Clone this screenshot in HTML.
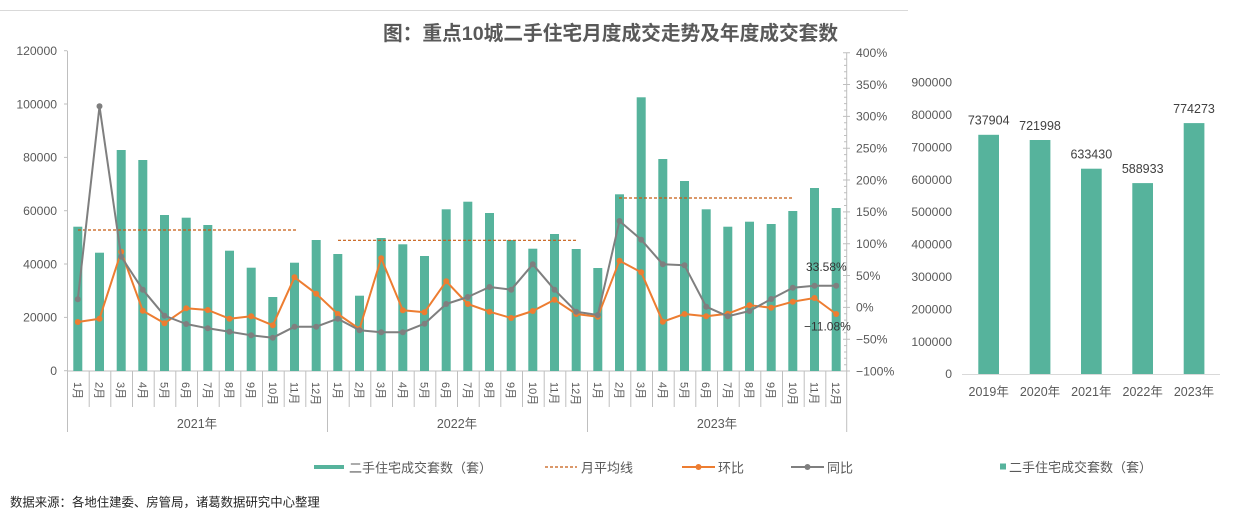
<!DOCTYPE html>
<html><head><meta charset="utf-8"><style>
html,body{margin:0;padding:0;background:#fff;}
svg{display:block;font-family:"Liberation Sans","Noto Sans CJK SC",sans-serif;}
</style></head><body>
<svg width="1249" height="517" viewBox="0 0 1249 517" xmlns="http://www.w3.org/2000/svg">
<rect width="1249" height="517" fill="#fff"/>
<line x1="0" y1="10.5" x2="908" y2="10.5" stroke="#d9d9d9" stroke-width="1"/>
<text x="383" y="40" font-size="19.7" font-weight="bold" fill="#595959">图：重点10城二手住宅月度成交走势及年度成交套数</text>

<!-- left axis -->
<g stroke="#bfbfbf" stroke-width="1" fill="none">
<line x1="67.5" y1="50.7" x2="67.5" y2="432"/>
<line x1="67" y1="371" x2="847" y2="371"/>
<line x1="64" y1="50.7" x2="67" y2="50.7"/><line x1="64" y1="104" x2="67" y2="104"/><line x1="64" y1="157.4" x2="67" y2="157.4"/><line x1="64" y1="210.7" x2="67" y2="210.7"/><line x1="64" y1="264" x2="67" y2="264"/><line x1="64" y1="317.4" x2="67" y2="317.4"/><line x1="64" y1="370.7" x2="67" y2="370.7"/>
</g>
<g font-size="12.2" fill="#595959" text-anchor="end">
<text x="57" y="55">120000</text><text x="57" y="108.3">100000</text><text x="57" y="161.7">80000</text><text x="57" y="215">60000</text><text x="57" y="268.3">40000</text><text x="57" y="321.7">20000</text><text x="57" y="375">0</text>
</g>

<!-- right axis -->
<g stroke="#bfbfbf" stroke-width="1" fill="none">
<line x1="846.7" y1="52.7" x2="846.7" y2="371"/>
<path d="M843 52.7H850M843 84.5H850M843 116.4H850M843 148.2H850M843 180H850M843 211.9H850M843 243.7H850M843 275.5H850M843 307.4H850M843 339.2H850M843 371H850"/>
<path d="M844 59.1H846.7M844 65.4H846.7M844 71.8H846.7M844 78.2H846.7M844 90.9H846.7M844 97.3H846.7M844 103.6H846.7M844 110H846.7M844 122.8H846.7M844 129.1H846.7M844 135.5H846.7M844 141.8H846.7M844 154.6H846.7M844 161H846.7M844 167.3H846.7M844 173.7H846.7M844 186.4H846.7M844 192.8H846.7M844 199.1H846.7M844 205.5H846.7M844 218.3H846.7M844 224.6H846.7M844 231H846.7M844 237.3H846.7M844 250.1H846.7M844 256.5H846.7M844 262.8H846.7M844 269.2H846.7M844 281.9H846.7M844 288.3H846.7M844 294.7H846.7M844 301H846.7M844 313.8H846.7M844 320.1H846.7M844 326.5H846.7M844 332.8H846.7M844 345.6H846.7M844 352H846.7M844 358.3H846.7M844 364.7H846.7"/>
</g>
<g font-size="12.2" fill="#595959">
<text x="856" y="57">400%</text><text x="856" y="88.8">350%</text><text x="856" y="120.7">300%</text><text x="856" y="152.5">250%</text><text x="856" y="184.3">200%</text><text x="856" y="216.2">150%</text><text x="856" y="248">100%</text><text x="856" y="279.8">50%</text><text x="856" y="311.7">0%</text><text x="856" y="343.5">−50%</text><text x="856" y="375.3">−100%</text>
</g>

<!-- bars -->
<g fill="#56b39c">
<rect x="73.3" y="226.7" width="9" height="144.3"/><rect x="95" y="252.7" width="9" height="118.3"/><rect x="116.7" y="150" width="9" height="221"/><rect x="138.3" y="160" width="9" height="211"/><rect x="160" y="215" width="9" height="156"/><rect x="181.7" y="217.7" width="9" height="153.3"/><rect x="203.3" y="225" width="9" height="146"/><rect x="225" y="250.7" width="9" height="120.3"/><rect x="246.7" y="267.7" width="9" height="103.3"/><rect x="268.3" y="297" width="9" height="74"/><rect x="290" y="262.7" width="9" height="108.3"/><rect x="311.7" y="240" width="9" height="131"/>
<rect x="333.3" y="254" width="9" height="117"/><rect x="355" y="295.7" width="9" height="75.3"/><rect x="376.7" y="238" width="9" height="133"/><rect x="398.3" y="244.3" width="9" height="126.7"/><rect x="420" y="256" width="9" height="115"/><rect x="441.7" y="209.3" width="9" height="161.7"/><rect x="463.3" y="201.7" width="9" height="169.3"/><rect x="485" y="213" width="9" height="158"/><rect x="506.7" y="240" width="9" height="131"/><rect x="528.3" y="248.7" width="9" height="122.3"/><rect x="550" y="234" width="9" height="137"/><rect x="571.7" y="249" width="9" height="122"/>
<rect x="593.3" y="268" width="9" height="103"/><rect x="615" y="194.3" width="9" height="176.7"/><rect x="636.7" y="97.3" width="9" height="273.7"/><rect x="658.3" y="159" width="9" height="212"/><rect x="680" y="181" width="9" height="190"/><rect x="701.7" y="209.3" width="9" height="161.7"/><rect x="723.3" y="226.7" width="9" height="144.3"/><rect x="745" y="221.7" width="9" height="149.3"/><rect x="766.7" y="224" width="9" height="147"/><rect x="788.3" y="211" width="9" height="160"/><rect x="810" y="188" width="9" height="183"/><rect x="831.7" y="208" width="9" height="163"/>
</g>

<!-- average lines -->
<g stroke="#c55a11" stroke-width="1.2" stroke-dasharray="3,2" fill="none">
<line x1="78" y1="230" x2="296" y2="230"/>
<line x1="338" y1="240.3" x2="576" y2="240.3"/>
<line x1="619" y1="198" x2="794" y2="198"/>
</g>

<!-- 环比 -->
<polyline fill="none" stroke="#ed7d31" stroke-width="2" stroke-linejoin="round" points="77.8,322 99.5,318.7 121.2,251.7 142.8,310.7 164.5,323.3 186.2,308.3 207.8,310 229.5,318.7 251.2,316.3 272.8,325.3 294.5,277.3 316.2,293.7 337.8,314 359.5,329 381.2,258.3 402.8,310.3 424.5,312.3 446.2,281.3 467.8,304 489.5,311.7 511.2,318 532.8,311 554.5,299.7 576.2,314 597.8,316.7 619.5,260.7 641.2,272.3 662.8,321.7 684.5,314 706.2,316.3 727.8,313.7 749.5,305.3 771.2,307.7 792.8,301.7 814.5,298 836.2,314"/>
<g fill="#ed7d31">
<circle cx="77.8" cy="322" r="3"/><circle cx="99.5" cy="318.7" r="3"/><circle cx="121.2" cy="251.7" r="3"/><circle cx="142.8" cy="310.7" r="3"/><circle cx="164.5" cy="323.3" r="3"/><circle cx="186.2" cy="308.3" r="3"/><circle cx="207.8" cy="310" r="3"/><circle cx="229.5" cy="318.7" r="3"/><circle cx="251.2" cy="316.3" r="3"/><circle cx="272.8" cy="325.3" r="3"/><circle cx="294.5" cy="277.3" r="3"/><circle cx="316.2" cy="293.7" r="3"/><circle cx="337.8" cy="314" r="3"/><circle cx="359.5" cy="329" r="3"/><circle cx="381.2" cy="258.3" r="3"/><circle cx="402.8" cy="310.3" r="3"/><circle cx="424.5" cy="312.3" r="3"/><circle cx="446.2" cy="281.3" r="3"/><circle cx="467.8" cy="304" r="3"/><circle cx="489.5" cy="311.7" r="3"/><circle cx="511.2" cy="318" r="3"/><circle cx="532.8" cy="311" r="3"/><circle cx="554.5" cy="299.7" r="3"/><circle cx="576.2" cy="314" r="3"/><circle cx="597.8" cy="316.7" r="3"/><circle cx="619.5" cy="260.7" r="3"/><circle cx="641.2" cy="272.3" r="3"/><circle cx="662.8" cy="321.7" r="3"/><circle cx="684.5" cy="314" r="3"/><circle cx="706.2" cy="316.3" r="3"/><circle cx="727.8" cy="313.7" r="3"/><circle cx="749.5" cy="305.3" r="3"/><circle cx="771.2" cy="307.7" r="3"/><circle cx="792.8" cy="301.7" r="3"/><circle cx="814.5" cy="298" r="3"/><circle cx="836.2" cy="314" r="3"/>
</g>

<!-- 同比 -->
<polyline fill="none" stroke="#7f7f7f" stroke-width="2" stroke-linejoin="round" points="77.8,299.3 99.5,106.3 121.2,256.7 142.8,289.7 164.5,315.7 186.2,324 207.8,328.3 229.5,331.7 251.2,335.3 272.8,337.7 294.5,326.7 316.2,326.7 337.8,318.7 359.5,330.3 381.2,332.3 402.8,332.3 424.5,323.7 446.2,304 467.8,297 489.5,287 511.2,289.7 532.8,264.3 554.5,289.7 576.2,311.7 597.8,315 619.5,221 641.2,239.7 662.8,264.3 684.5,265.3 706.2,306.7 727.8,316.3 749.5,311 771.2,299 792.8,287.7 814.5,285.7 836.2,285.7"/>
<g fill="#7f7f7f">
<circle cx="77.8" cy="299.3" r="3"/><circle cx="99.5" cy="106.3" r="3"/><circle cx="121.2" cy="256.7" r="3"/><circle cx="142.8" cy="289.7" r="3"/><circle cx="164.5" cy="315.7" r="3"/><circle cx="186.2" cy="324" r="3"/><circle cx="207.8" cy="328.3" r="3"/><circle cx="229.5" cy="331.7" r="3"/><circle cx="251.2" cy="335.3" r="3"/><circle cx="272.8" cy="337.7" r="3"/><circle cx="294.5" cy="326.7" r="3"/><circle cx="316.2" cy="326.7" r="3"/><circle cx="337.8" cy="318.7" r="3"/><circle cx="359.5" cy="330.3" r="3"/><circle cx="381.2" cy="332.3" r="3"/><circle cx="402.8" cy="332.3" r="3"/><circle cx="424.5" cy="323.7" r="3"/><circle cx="446.2" cy="304" r="3"/><circle cx="467.8" cy="297" r="3"/><circle cx="489.5" cy="287" r="3"/><circle cx="511.2" cy="289.7" r="3"/><circle cx="532.8" cy="264.3" r="3"/><circle cx="554.5" cy="289.7" r="3"/><circle cx="576.2" cy="311.7" r="3"/><circle cx="597.8" cy="315" r="3"/><circle cx="619.5" cy="221" r="3"/><circle cx="641.2" cy="239.7" r="3"/><circle cx="662.8" cy="264.3" r="3"/><circle cx="684.5" cy="265.3" r="3"/><circle cx="706.2" cy="306.7" r="3"/><circle cx="727.8" cy="316.3" r="3"/><circle cx="749.5" cy="311" r="3"/><circle cx="771.2" cy="299" r="3"/><circle cx="792.8" cy="287.7" r="3"/><circle cx="814.5" cy="285.7" r="3"/><circle cx="836.2" cy="285.7" r="3"/>
</g>

<g font-size="12" fill="#333">
<text x="806" y="271">33.58%</text>
<text x="804" y="330.3">−11.08%</text>
</g>

<!-- category separators -->
<g stroke="#bfbfbf" stroke-width="1">
<path d="M89.2 371V407M110.8 371V407M132.5 371V407M154.2 371V407M175.8 371V407M197.5 371V407M219.2 371V407M240.8 371V407M262.5 371V407M284.2 371V407M305.8 371V407M349.2 371V407M370.8 371V407M392.5 371V407M414.2 371V407M435.8 371V407M457.5 371V407M479.2 371V407M500.8 371V407M522.5 371V407M544.2 371V407M565.8 371V407M609.2 371V407M630.8 371V407M652.5 371V407M674.2 371V407M695.8 371V407M717.5 371V407M739.2 371V407M760.8 371V407M782.5 371V407M804.2 371V407M825.8 371V407"/>
<path d="M327.5 371V432M587.5 371V432M846.7 371V432"/>
</g>

<!-- month labels -->
<g font-size="11" fill="#595959">
<text transform="translate(73.8,382) rotate(90)">1月</text><text transform="translate(95.5,382) rotate(90)">2月</text><text transform="translate(117.2,382) rotate(90)">3月</text><text transform="translate(138.8,382) rotate(90)">4月</text><text transform="translate(160.5,382) rotate(90)">5月</text><text transform="translate(182.2,382) rotate(90)">6月</text><text transform="translate(203.8,382) rotate(90)">7月</text><text transform="translate(225.5,382) rotate(90)">8月</text><text transform="translate(247.2,382) rotate(90)">9月</text><text transform="translate(268.8,382) rotate(90)">10月</text><text transform="translate(290.5,382) rotate(90)">11月</text><text transform="translate(312.2,382) rotate(90)">12月</text>
<text transform="translate(333.8,382) rotate(90)">1月</text><text transform="translate(355.5,382) rotate(90)">2月</text><text transform="translate(377.2,382) rotate(90)">3月</text><text transform="translate(398.8,382) rotate(90)">4月</text><text transform="translate(420.5,382) rotate(90)">5月</text><text transform="translate(442.2,382) rotate(90)">6月</text><text transform="translate(463.8,382) rotate(90)">7月</text><text transform="translate(485.5,382) rotate(90)">8月</text><text transform="translate(507.2,382) rotate(90)">9月</text><text transform="translate(528.8,382) rotate(90)">10月</text><text transform="translate(550.5,382) rotate(90)">11月</text><text transform="translate(572.2,382) rotate(90)">12月</text>
<text transform="translate(593.8,382) rotate(90)">1月</text><text transform="translate(615.5,382) rotate(90)">2月</text><text transform="translate(637.2,382) rotate(90)">3月</text><text transform="translate(658.8,382) rotate(90)">4月</text><text transform="translate(680.5,382) rotate(90)">5月</text><text transform="translate(702.2,382) rotate(90)">6月</text><text transform="translate(723.8,382) rotate(90)">7月</text><text transform="translate(745.5,382) rotate(90)">8月</text><text transform="translate(767.2,382) rotate(90)">9月</text><text transform="translate(788.8,382) rotate(90)">10月</text><text transform="translate(810.5,382) rotate(90)">11月</text><text transform="translate(832.2,382) rotate(90)">12月</text>
</g>
<g font-size="12.5" fill="#595959" text-anchor="middle">
<text x="197" y="428">2021年</text><text x="457" y="428">2022年</text><text x="717" y="428">2023年</text>
</g>

<!-- legend left -->
<rect x="314" y="465" width="30" height="4" fill="#56b39c"/>
<line x1="545" y1="467" x2="577" y2="467" stroke="#c55a11" stroke-width="1.2" stroke-dasharray="3,2"/>
<line x1="682" y1="467" x2="715" y2="467" stroke="#ed7d31" stroke-width="2"/><circle cx="698.5" cy="467" r="3" fill="#ed7d31"/>
<line x1="791" y1="467" x2="824" y2="467" stroke="#7f7f7f" stroke-width="2"/><circle cx="807.5" cy="467" r="3" fill="#7f7f7f"/>
<g font-size="13" fill="#595959">
<text x="349" y="472.5">二手住宅成交套数（套）</text>
<text x="581" y="472.5">月平均线</text>
<text x="718" y="472.5">环比</text>
<text x="827" y="472.5">同比</text>
</g>

<!-- right chart -->
<g font-size="12.2" fill="#595959" text-anchor="end">
<text x="952" y="86.5">900000</text><text x="952" y="118.9">800000</text><text x="952" y="151.3">700000</text><text x="952" y="183.8">600000</text><text x="952" y="216.2">500000</text><text x="952" y="248.6">400000</text><text x="952" y="281">300000</text><text x="952" y="313.4">200000</text><text x="952" y="345.8">100000</text><text x="952" y="378.2">0</text>
</g>
<line x1="962" y1="374.5" x2="1220" y2="374.5" stroke="#d9d9d9" stroke-width="1"/>
<g fill="#56b39c">
<rect x="978.3" y="134.8" width="20.7" height="239.2"/>
<rect x="1029.7" y="140" width="20.7" height="234"/>
<rect x="1081" y="168.7" width="20.7" height="205.3"/>
<rect x="1132.3" y="183.1" width="20.7" height="190.9"/>
<rect x="1183.7" y="123.1" width="20.7" height="250.9"/>
</g>
<g font-size="12.5" fill="#404040" text-anchor="middle">
<text x="988.7" y="124.6">737904</text><text x="1040" y="129.8">721998</text><text x="1091.3" y="158.5">633430</text><text x="1142.7" y="172.9">588933</text><text x="1194" y="112.9">774273</text>
</g>
<g font-size="12.5" fill="#595959" text-anchor="middle">
<text x="988.7" y="396">2019年</text><text x="1040" y="396">2020年</text><text x="1091.3" y="396">2021年</text><text x="1142.7" y="396">2022年</text><text x="1194" y="396">2023年</text>
</g>
<rect x="1000" y="463.5" width="6" height="6" fill="#56b39c"/>
<text x="1009" y="472" font-size="13" fill="#595959">二手住宅成交套数（套）</text>

<text x="10" y="506.5" font-size="12.4" fill="#262626">数据来源：各地住建委、房管局，诸葛数据研究中心整理</text>
</svg>
</body></html>
